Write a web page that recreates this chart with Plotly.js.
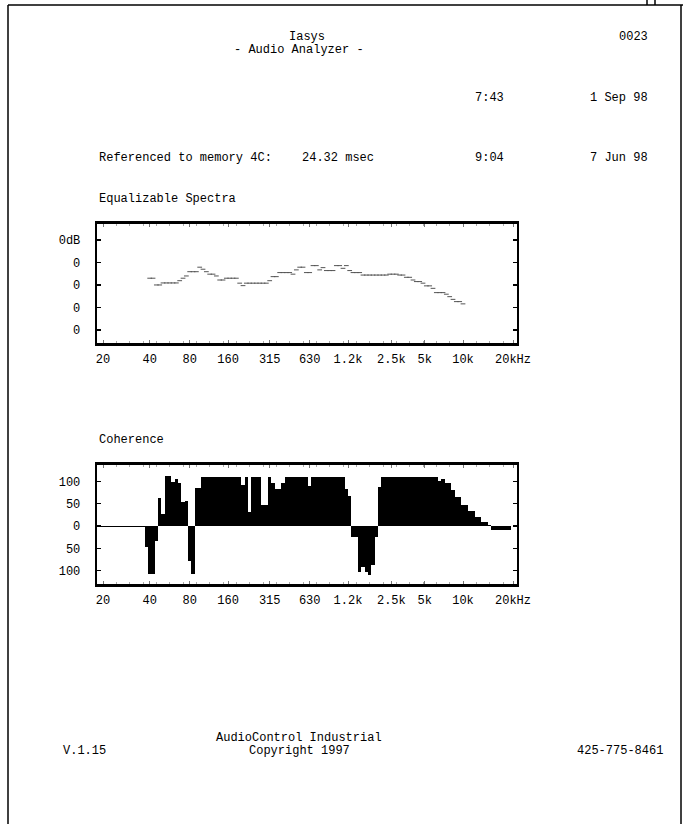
<!DOCTYPE html>
<html>
<head>
<meta charset="utf-8">
<script src="https://cdn.plot.ly/plotly-3.0.1.min.js"></script>
<style>html,body{margin:0;padding:0;background:#fff;}#chart{width:683px;height:824px;}</style>
</head>
<body>
<div id="chart"></div>
<script>
// x axis: 1/12-octave band index above 20 Hz
const xTickVals = [0, 14, 26, 37.5, 50, 62, 73.5, 86.5, 96.5, 108, 123];
const xTickText = ['20', '40', '80', '160', '315', '630', '1.2k', '2.5k', '5k', '10k', '20kHz'];

// Equalizable Spectra (dB), one value per 1/12-octave band, starting at band 14
const spectraStartBand = 14;
const spectraDb = [
  -7.0, -7.0, -10.0, -10.0, -9.1, -9.1, -9.1, -9.1, -9.1, -8.1,
  -7.0, -6.0, -4.1, -4.1, -4.1, -2.1, -3.0, -4.1, -5.2, -5.2,
  -6.0, -7.8, -7.8, -7.0, -7.0, -7.0, -7.0, -9.2, -10.3, -9.2,
  -9.2, -9.2, -9.2, -9.2, -9.2, -9.2, -8.1, -6.3, -6.3, -4.5,
  -4.5, -4.5, -4.5, -5.2, -3.3, -2.1, -2.1, -4.5, -4.5, -1.4,
  -1.4, -3.3, -2.3, -3.6, -3.6, -3.6, -1.4, -1.4, -2.6, -1.4,
  -3.6, -4.5, -4.5, -4.5, -5.6, -5.6, -5.6, -5.6, -5.6, -5.6,
  -5.6, -5.6, -5.2, -5.2, -5.2, -5.6, -5.6, -6.6, -6.6, -7.8,
  -8.5, -8.5, -9.2, -10.4, -10.4, -11.5, -13.4, -13.4, -13.4, -14.1,
  -15.2, -16.4, -17.4, -17.4, -18.4
];
const spectraTickVals = [10, 0, -10, -20, -30];
const spectraTickText = ['0dB', '0', '0', '0', '0'];

// Coherence, one value per 1/12-octave band, starting at band 0
const coherenceStartBand = 0;
const coherence = [
  -3, -3, -3, -3, -3, -3, -3, -3, -3, -3, -3, -3, -3,
  -46, -108, -108, -34, 62, 26, 112, 112, 99, 105, 96, 53, 56,
  -78, -108, 86, 86,
  110, 110, 110, 110, 110, 110, 110, 110, 110, 110, 110, 110,
  92, 110, 31, 110, 110, 110, 47, 47, 110, 96, 84, 82, 96,
  110, 110, 110, 110, 110, 110, 110,
  90,
  110, 110, 110, 110, 110, 110, 110, 110, 110, 110,
  84, 68,
  -24, -24, -104, -91, -104, -110, -88, -24,
  88,
  110, 110, 110, 110, 110, 110, 110, 110, 110, 110, 110, 110, 110, 110, 110, 110, 110,
  101, 106, 96, 96, 81, 64, 64, 47, 47, 34, 34, 21, 21, 10, 10, 2,
  -8, -8, -8, -8, -8, -8
];
const coherenceTickVals = [100, 50, 0, -50, -100];
const coherenceTickText = ['100', '50', '0', '50', '100'];

const W = 683, H = 824;
const FONT = 'Liberation Mono, Courier New, DejaVu Sans Mono, monospace';
const px = v => v / W;
const py = v => 1 - v / H;

const specX = spectraDb.map((_, i) => spectraStartBand + i);
const cohX = coherence.map((_, i) => coherenceStartBand + i);

const traces = [
  {
    type: 'scatter', mode: 'markers', x: specX, y: spectraDb, xaxis: 'x', yaxis: 'y',
    marker: {symbol: 'line-ew', size: 3.4, color: '#555', line: {color: '#555', width: 1}},
    hoverinfo: 'none'
  },
  {
    type: 'bar', x: cohX, y: coherence, xaxis: 'x2', yaxis: 'y2', width: 1,
    marker: {color: '#000', line: {width: 0}}, hoverinfo: 'none'
  }
];

const xBase = {
  range: [-1.9, 124.2], tickmode: 'array', tickvals: xTickVals, ticktext: xTickText,
  ticks: 'inside', ticklen: 3, tickcolor: '#777', tickwidth: 1,
  minor: {tickmode: 'linear', tick0: 0, dtick: 4, ticks: 'inside', ticklen: 2, tickcolor: '#aaa', tickwidth: 1},
  showline: true, linecolor: '#000', linewidth: 3, mirror: 'ticks',
  showgrid: false, zeroline: false, ticklabelstandoff: 3,
  tickfont: {family: FONT, size: 12, color: '#000'}
};
const yBase = {
  tickmode: 'array', ticks: 'inside', ticklen: 4, tickcolor: '#000', tickwidth: 1.5,
  showline: true, linecolor: '#000', linewidth: 2, mirror: 'ticks',
  showgrid: false, zeroline: false, ticklabelstandoff: 12,
  tickfont: {family: FONT, size: 12, color: '#000'}
};

const texts = [
  ['Iasys', 307, 37, 'center'],
  ['- Audio Analyzer -', 299, 50, 'center'],
  ['0023', 650, 37, 'right'],
  ['7:43', 506, 98, 'right'],
  ['1 Sep 98', 650, 98, 'right'],
  ['Referenced to memory 4C:', 97, 158, 'left'],
  ['24.32 msec', 300, 158, 'left'],
  ['9:04', 506, 158, 'right'],
  ['7 Jun 98', 650, 158, 'right'],
  ['Equalizable Spectra', 97, 199, 'left'],
  ['Coherence', 97, 440, 'left'],
  ['AudioControl Industrial', 299, 738, 'center'],
  ['Copyright 1997', 299, 751, 'center'],
  ['V.1.15', 61, 751, 'left'],
  ['425-775-8461', 665, 751, 'right']
];

const annotations = texts.map(t => ({
  text: t[0], xref: 'paper', yref: 'paper', x: px(t[1]), y: py(t[2]),
  xanchor: t[3], yanchor: 'middle', showarrow: false,
  font: {family: FONT, size: 12, color: '#000'}
}));

const line = (x0, y0, x1, y1) => ({
  type: 'line', xref: 'paper', yref: 'paper', x0: px(x0), y0: py(y0), x1: px(x1), y1: py(y1),
  line: {color: '#000', width: 1.5}
});

const layout = {
  width: W, height: H, margin: {l: 0, r: 0, t: 0, b: 0},
  paper_bgcolor: '#fff', plot_bgcolor: '#fff', showlegend: false, bargap: 0,
  xaxis: Object.assign({}, xBase, {domain: [px(96.7), px(517)], anchor: 'y'}),
  yaxis: Object.assign({}, yBase, {domain: [py(343), py(224)], anchor: 'x', range: [-35.8, 17.1],
    tickvals: spectraTickVals, ticktext: spectraTickText}),
  xaxis2: Object.assign({}, xBase, {domain: [px(96.7), px(517)], anchor: 'y2'}),
  yaxis2: Object.assign({}, yBase, {domain: [py(584), py(465)], anchor: 'x2', range: [-130, 136.8],
    tickvals: coherenceTickVals, ticktext: coherenceTickText}),
  annotations: annotations,
  shapes: [
    line(8, 5, 683, 5),
    line(8, 5, 8, 824),
    line(681, 5, 681, 824),
    line(647, 0, 647, 5),
    line(655, 0, 655, 5)
  ]
};

Plotly.newPlot('chart', traces, layout, {displayModeBar: false, staticPlot: true});
</script>
</body>
</html>
